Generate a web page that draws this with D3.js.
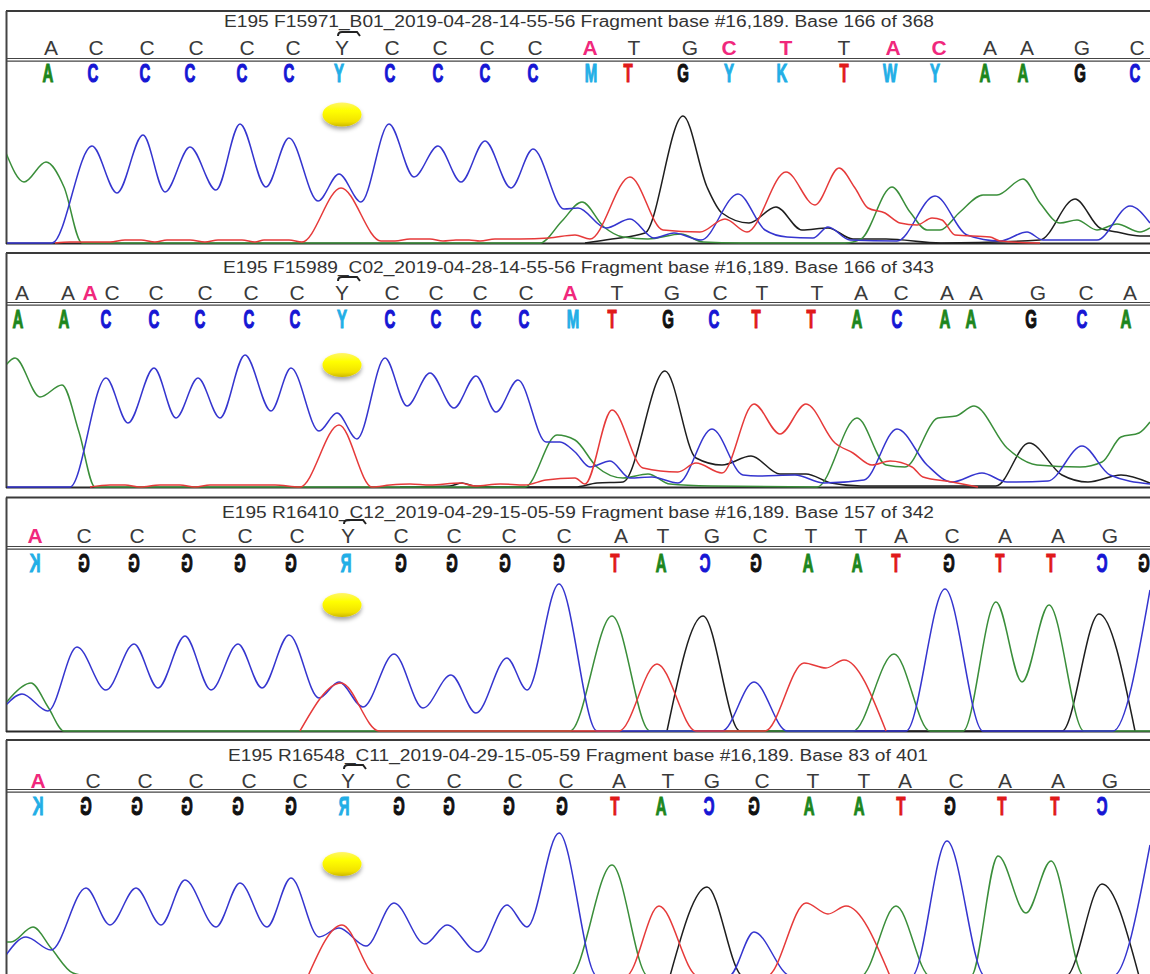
<!DOCTYPE html>
<html><head><meta charset="utf-8">
<script src="https://cdn.jsdelivr.net/npm/d3@7"></script>
<style>body{margin:0;background:#fff}svg{display:block}</style>
</head><body><svg id="c" width="1150" height="974"></svg>
<script>
// ---------------- DATA ----------------
const titles = [
  "E195 F15971_B01_2019-04-28-14-55-56 Fragment base #16,189. Base 166 of 368",
  "E195 F15989_C02_2019-04-28-14-55-56 Fragment base #16,189. Base 166 of 343",
  "E195 R16410_C12_2019-04-29-15-05-59 Fragment base #16,189. Base 157 of 342",
  "E195 R16548_C11_2019-04-29-15-05-59 Fragment base #16,189. Base 83 of 401"
];
// reference (top row) bases, scan positions and mismatch flags
const p1RefBases = "ACCCCCYCCCCATGCTTACAAGC".split("");
const p1RefPos = [51,96,147,196,247,293,342,392,440,487,535,590,634,690,729,786,844,893,939,990,1027,1082,1137];
const p1RefMismatch = [11,14,15,17,18];
const p2RefBases = "AAACCCCCYCCCCATGCTTACAAGCA".split("");
const p2RefPos = [22,68,90,112,156,205,251,297,342,392,436,480,526,570,617,672,720,762,817,861,901,947,976,1038,1086,1130];
const p2RefMismatch = [2,13];
const p3RefBases = "ACCCCCYCCCCATGCTTACAAG".split("");
const p3RefPos = [35,84,137,189,245,297,348,401,454,509,564,621,663,712,760,811,861,901,952,1005,1058,1110];
const p3RefMismatch = [0];
const p4RefBases = "ACCCCCYCCCCATGCTTACAAG".split("");
const p4RefPos = [38,93,145,196,249,300,348,403,454,515,566,619,668,712,762,813,864,905,956,1005,1058,1110];
const p4RefMismatch = [0];
// base calls (second row)
const p1Calls = "ACCCCCYCCCCMTGYKTWYAAGC".split("");
const p1CallPos = [48,93,145,190,242,289,339,390,438,485,533,591,628,683,729,782,844,890,935,985,1023,1080,1135];
const p2Calls = "AACCCCCYCCCCMTGCTTACAAGCA".split("");
const p2CallPos = [18,64,106,154,200,249,295,342,390,436,476,524,573,612,668,714,756,811,857,897,945,971,1031,1082,1126];
const p3Calls = "KGGGGGRGGGGTACGAATGTTCG".split("");
const p3CallPos = [35,84,134,187,240,291,346,401,452,505,559,615,661,705,756,808,857,896,949,1000,1051,1102,1144];
const p4Calls = "KGGGGGRGGGGTACGAATGTTC".split("");
const p4CallPos = [38,86,137,187,238,291,344,399,449,509,562,615,661,709,754,809,859,901,950,1002,1055,1102];
const reverseStrand = [false,false,true,true];
const markerPos = [342,342,342,342];

// traces: [scan position, signal]
const p1A = [[6,90],[24,61],[46,81],[64,56],[82,0],[100,0],[540,0],[562,22],[582,41],[604,16],[623,6],[648,4],[681,9],[703,1],[740,0],[845,0],[861,4],[892,56],[910,31],[927,13],[940,13],[960,31],[983,48],[997,48],[1023,64],[1040,40],[1060,20],[1077,23],[1097,13],[1117,19],[1140,11],[1150,15]];
const p1C = [[6,0],[52,0],[92,97],[117,50],[143,108],[165,51],[190,96],[216,53],[240,119],[266,56],[289,105],[318,42],[339,69],[361,41],[389,119],[414,66],[438,97],[461,61],[485,102],[511,55],[533,94],[564,34],[578,35],[606,15],[630,24],[654,5],[674,10],[701,3],[738,49],[765,13],[787,6],[813,5],[828,16],[850,3],[897,2],[935,47],[967,8],[1000,2],[1027,11],[1043,3],[1097,3],[1130,37],[1150,20]];
const p1T = [[55,0],[70,1],[110,1],[125,3],[141,3],[155,1],[167,3],[190,3],[205,1],[218,3],[242,3],[255,1],[264,3],[289,3],[302,1],[341,55],[381,2],[395,2],[410,4],[430,4],[443,2],[456,3],[469,3],[480,2],[495,4],[520,4],[549,5],[575,8],[590,4],[630,66],[663,13],[700,11],[725,24],[747,11],[786,71],[815,38],[839,75],[855,55],[868,35],[885,30],[900,20],[917,18],[932,25],[942,23],[955,8],[990,6],[1000,2],[1040,0]];
const p1G = [[585,0],[612,4],[645,10],[683,127],[707,56],[722,30],[749,20],[776,36],[802,13],[828,15],[853,4],[886,4],[941,0],[1040,3],[1075,44],[1100,15],[1117,11],[1140,7],[1150,7]];

const p2A = [[6,122],[15,129],[40,90],[62,102],[79,55],[95,0],[110,0],[525,0],[557,52],[575,47],[597,20],[623,9],[648,13],[670,3],[711,1],[817,0],[857,69],[886,22],[905,20],[938,69],[956,71],[974,81],[1007,39],[1037,22],[1080,20],[1102,25],[1121,50],[1139,54],[1150,65]];
const p2C = [[6,0],[70,0],[106,109],[128,64],[154,119],[176,69],[198,109],[220,69],[245,132],[271,76],[291,119],[319,56],[337,74],[357,48],[385,129],[407,81],[430,114],[454,79],[476,111],[496,75],[518,107],[546,45],[560,45],[575,35],[590,20],[610,26],[630,9],[652,10],[678,4],[712,58],[743,12],[758,11],[795,12],[824,4],[864,7],[897,58],[927,22],[952,5],[982,14],[1007,5],[1048,6],[1082,41],[1110,12],[1150,3]];
const p2T = [[90,0],[110,2],[125,2],[140,0],[160,2],[180,2],[195,0],[210,2],[275,2],[300,0],[339,62],[372,0],[390,2],[410,3],[430,2],[460,4],[475,1],[500,3],[525,2],[546,7],[575,9],[585,3],[612,77],[643,19],[678,15],[696,24],[722,14],[754,83],[780,53],[806,83],[835,44],[853,34],[872,22],[890,26],[912,20],[923,10],[952,5],[978,0]];
const p2G = [[400,0],[450,1],[462,4],[474,1],[500,0],[575,0],[597,4],[623,5],[665,116],[696,29],[722,22],[751,31],[780,13],[806,13],[831,4],[861,1],[996,1],[1029,44],[1062,12],[1088,5],[1121,12],[1150,4]];

const p3A = [[6,28],[11,34],[31,48],[48,24],[64,0],[90,0],[570,0],[612,115],[650,0],[853,0],[894,77],[930,0],[963,0],[996,129],[1022,49],[1049,126],[1084,0],[1150,0]];
const p3C = [[6,26],[22,37],[48,20],[77,84],[106,41],[134,87],[158,43],[185,95],[211,41],[238,87],[262,43],[289,96],[319,33],[339,49],[363,24],[394,77],[423,23],[451,56],[476,18],[507,73],[527,41],[559,147],[597,0],[722,0],[754,49],[787,0],[906,0],[945,142],[983,0],[1113,0],[1150,141]];
const p3T = [[300,0],[341,48],[379,0],[619,0],[657,67],[696,0],[765,0],[804,68],[826,63],[844,71],[886,0]];
const p3G = [[667,0],[703,115],[740,0],[1062,0],[1099,117],[1135,0]];

const p4A = [[6,34],[11,34],[33,49],[51,28],[73,3],[90,0],[570,0],[612,111],[648,0],[861,0],[896,70],[930,0],[971,0],[998,120],[1026,63],[1051,115],[1084,0],[1150,0]];
const p4C = [[6,21],[26,39],[51,26],[86,88],[110,51],[136,88],[161,51],[185,96],[216,49],[240,93],[267,49],[291,98],[319,39],[339,48],[366,30],[394,73],[425,32],[447,51],[478,24],[507,71],[527,49],[559,143],[597,0],[729,0],[754,44],[791,0],[912,0],[947,135],[985,0],[1113,0],[1150,131]];
const p4T = [[308,0],[342,51],[377,0],[626,0],[659,70],[698,0],[767,0],[806,73],[828,62],[846,70],[890,0]];
const p4G = [[670,0],[707,89],[743,0],[1066,0],[1102,92],[1139,0]];

// ---------------- LAYOUT / STYLE ----------------
const layout = [
  {top:11,  titleY:27,  titleX:[224,934], refY:55,  sepY:58.5,  callY:82,  base:243, ellY:114.5},
  {top:253, titleY:273, titleX:[223,934], refY:300, sepY:302.5, callY:328, base:487, ellY:365},
  {top:497.5,titleY:518,titleX:[222,934], refY:543, sepY:546.5, callY:572, base:731, ellY:605},
  {top:740, titleY:761, titleX:[228,928], refY:788, sepY:789.5, callY:815, base:976, ellY:864}
];
const callColor = {A:"#1d861d", C:"#1616d4", G:"#111111", T:"#e01a1a"};
const ambigColor = "#22aee6";
const traceColor = {A:"#3a8e3a", C:"#3535cf", G:"#1e1e1e", T:"#e63a3a"};
const pink = "#f0287c";

const panels = [
  {ref:p1RefBases, refPos:p1RefPos, mis:p1RefMismatch, calls:p1Calls, callPos:p1CallPos, tr:{G:p1G, A:p1A, C:p1C, T:p1T}},
  {ref:p2RefBases, refPos:p2RefPos, mis:p2RefMismatch, calls:p2Calls, callPos:p2CallPos, tr:{G:p2G, A:p2A, C:p2C, T:p2T}},
  {ref:p3RefBases, refPos:p3RefPos, mis:p3RefMismatch, calls:p3Calls, callPos:p3CallPos, tr:{G:p3G, A:p3A, C:p3C, T:p3T}},
  {ref:p4RefBases, refPos:p4RefPos, mis:p4RefMismatch, calls:p4Calls, callPos:p4CallPos, tr:{G:p4G, A:p4A, C:p4C, T:p4T}}
];

const svg = d3.select("#c");
const defs = svg.append("defs");
const grad = defs.append("linearGradient").attr("id","yel").attr("x1",0).attr("y1",0).attr("x2",0).attr("y2",1);
grad.append("stop").attr("offset","0%").attr("stop-color","#fff56a");
grad.append("stop").attr("offset","35%").attr("stop-color","#ffff00");
grad.append("stop").attr("offset","80%").attr("stop-color","#f2e200");
grad.append("stop").attr("offset","100%").attr("stop-color","#cdb800");
const flt = defs.append("filter").attr("id","sh").attr("x","-50%").attr("y","-50%").attr("width","200%").attr("height","220%");
flt.append("feDropShadow").attr("dx",0).attr("dy",3).attr("stdDeviation",2.2).attr("flood-color","#000").attr("flood-opacity",0.35);

const x = d3.scaleLinear().domain([0,1150]).range([0,1150]);
const sans = "'Liberation Sans', Arial, Helvetica, sans-serif";

panels.forEach((P, i) => {
  const L = layout[i];
  const g = svg.append("g");
  const y = d3.scaleLinear().domain([0,160]).range([L.base, L.base-160]);

  defs.append("clipPath").attr("id","clip"+i).append("rect")
    .attr("x",7).attr("y",L.top+1).attr("width",1150-7).attr("height",L.base-L.top+1);

  // frame
  g.append("line").attr("x1",6).attr("x2",1150).attr("y1",L.top).attr("y2",L.top)
    .attr("stroke","#3a3a3a").attr("stroke-width",2);
  g.append("line").attr("x1",6.5).attr("x2",6.5).attr("y1",L.top).attr("y2",Math.min(L.base+1,974))
    .attr("stroke","#444").attr("stroke-width",2);
  g.append("line").attr("x1",6).attr("x2",1150).attr("y1",L.sepY).attr("y2",L.sepY)
    .attr("stroke","#444").attr("stroke-width",1.2);
  g.append("line").attr("x1",6).attr("x2",1150).attr("y1",L.sepY+2.6).attr("y2",L.sepY+2.6)
    .attr("stroke","#444").attr("stroke-width",1.2);
  g.append("line").attr("x1",6).attr("x2",1150).attr("y1",L.base+0.5).attr("y2",L.base+0.5)
    .attr("stroke","#2a2a2a").attr("stroke-width",2);

  // title
  g.append("text").attr("x",L.titleX[0]).attr("y",L.titleY)
    .attr("textLength",L.titleX[1]-L.titleX[0]).attr("lengthAdjust","spacingAndGlyphs")
    .attr("font-family",sans).attr("font-size",16).attr("fill","#333").text(titles[i]);

  // reference row
  g.selectAll(".ref").data(P.ref).enter().append("text")
    .attr("x",(d,k)=>x(P.refPos[k])).attr("y",L.refY)
    .attr("text-anchor","middle").attr("font-family",sans).attr("font-size",21)
    .attr("fill",(d,k)=>P.mis.includes(k)?pink:"#3a3a3a")
    .attr("font-weight",(d,k)=>P.mis.includes(k)?"bold":"normal")
    .text(d=>d);

  // bracket above the Y
  P.ref.forEach((b,k)=>{
    if (b==="Y"){
      const cx = x(P.refPos[k]), yb = L.refY-23;
      g.append("path").attr("d",`M${cx-4},${yb+4} Q${cx-4},${yb} ${cx},${yb} L${cx+15},${yb} L${cx+18},${yb+4}`)
        .attr("fill","none").attr("stroke","#222").attr("stroke-width",2);
    }
  });

  // base calls row
  const sx = reverseStrand[i] ? -0.6 : 0.6;
  g.selectAll(".call").data(P.calls).enter().append("text")
    .attr("transform",(d,k)=>`translate(${x(P.callPos[k])},${L.callY}) scale(${sx},1)`)
    .attr("text-anchor","middle").attr("font-family",sans).attr("font-weight","bold").attr("font-size",25)
    .attr("fill",d=>callColor[d]||ambigColor)
    .attr("stroke",d=>callColor[d]||ambigColor).attr("stroke-width",1.1)
    .text(d=>d);

  // traces
  const tg = g.append("g").attr("clip-path",`url(#clip${i})`);
  const line = d3.line().x(d=>x(d[0])).y(d=>y(d[1])).curve(d3.curveMonotoneX);
  ["G","A","C","T"].forEach(b=>{
    tg.append("path").attr("d",line(P.tr[b])).attr("fill","none")
      .attr("stroke",traceColor[b]).attr("stroke-width",1.5).attr("stroke-linejoin","round");
  });

  // marker
  g.append("ellipse").attr("cx",x(markerPos[i])).attr("cy",L.ellY).attr("rx",19.5).attr("ry",12)
    .attr("fill","url(#yel)").attr("filter","url(#sh)");
});
</script></body></html>
